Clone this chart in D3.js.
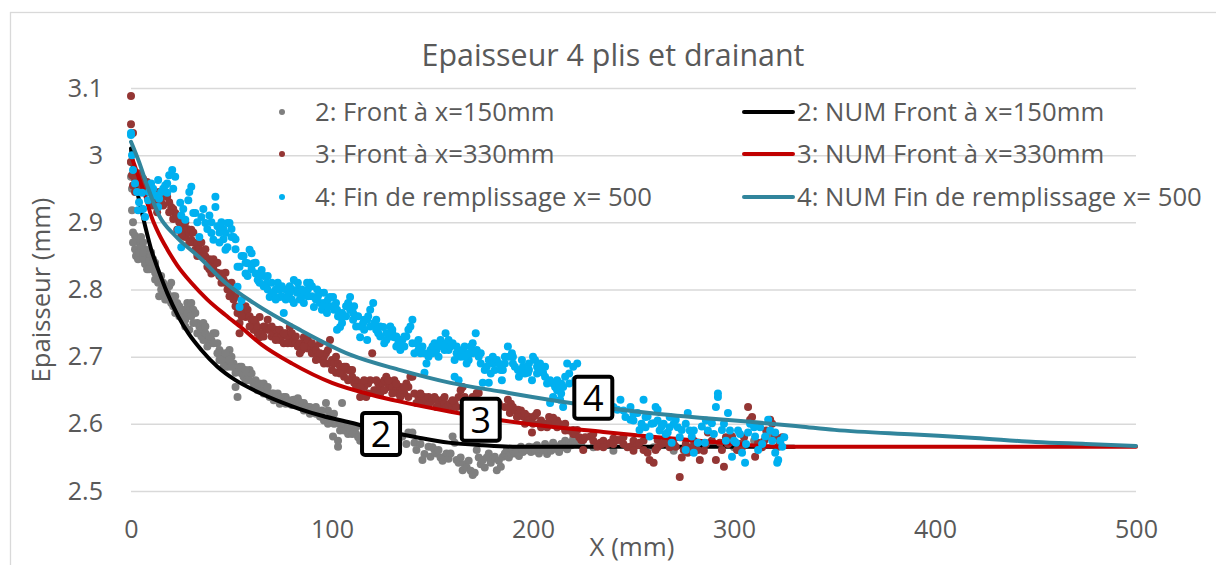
<!DOCTYPE html>
<html>
<head>
<meta charset="utf-8">
<script src="https://cdn.jsdelivr.net/npm/d3@7"></script>
<style>
  html, body { margin: 0; padding: 0; background: #fff; }
  svg { display: block; }
</style>
</head>
<body>
<svg id="chart" width="1216" height="565"></svg>
<script>
// ---- Data -------------------------------------------------------------
const chartTitle = "Epaisseur 4 plis et drainant";
const xAxisTitle = "X (mm)";
const yAxisTitle = "Epaisseur (mm)";
const xTickValues = [0, 100, 200, 300, 400, 500];
const yTickValues = [2.5, 2.6, 2.7, 2.8, 2.9, 3.0, 3.1];
const yTickLabels = ["2.5", "2.6", "2.7", "2.8", "2.9", "3", "3.1"];

const seriesNames = [
  "2: Front à x=150mm",
  "3: Front à x=330mm",
  "4: Fin de remplissage x= 500",
  "2: NUM Front à x=150mm",
  "3: NUM Front à x=330mm",
  "4: NUM Fin de remplissage x= 500"
];

// Measured thickness, front at x = 150 mm  [x (mm), thickness (mm)]
const frontX150 = [
  [0,2.99],[0,2.968],[0.5,2.95],[0.5,2.918],[1,2.90],[1,2.885],[2,2.88],[3,2.875],[4,2.87],[2.5,2.85],[3.5,2.845],
  [5,2.878],[6,2.87],[7,2.86],[8,2.85],[6,2.845],[7,2.838],[9,2.842],[10,2.835],[8,2.83],[10,2.855],
  [11,2.83],[12,2.825],[13,2.82],[14,2.815],[12,2.84],[13.5,2.81],[15,2.80],[14,2.79],
  [16,2.81],[17,2.80],[18,2.795],[19,2.805],[20,2.81],[18,2.785],[20,2.78],[21,2.79],[22,2.79],
  [23,2.78],[24,2.775],[25,2.77],[26,2.76],[27,2.755],[28,2.78],[29,2.775],[30,2.78],[31,2.77],[32,2.765],[27,2.745],[29,2.74],
  [33,2.75],[34,2.745],[35,2.74],[36,2.75],[37,2.745],[38,2.73],[39,2.72],[40,2.725],[38,2.715],[36,2.725],[41,2.735],[42,2.735],
  [43,2.72],[44,2.71],[45,2.705],[46,2.70],[47,2.695],[48,2.705],[49,2.71],[50,2.70],[44,2.695],[48,2.685],
  [51,2.69],[52,2.676],[53,2.68],[54,2.685],[55,2.685],[56,2.67],[57,2.665],[58,2.675],[59,2.68],[60,2.675],[53,2.64],[52,2.655],
  [61,2.66],[62,2.655],[63,2.65],[64,2.65],[65,2.655],[66,2.645],[67,2.65],[68,2.645],[69,2.64],[70,2.645],
  [71,2.645],[72,2.64],[73,2.645],[74,2.64],[75,2.635],[76,2.64],[77,2.64],[78,2.635],[79,2.63],[80,2.635],
  [81,2.636],[82,2.63],[83,2.628],[84,2.632],[85,2.625],[86,2.631],[87,2.626],[88,2.62],[89,2.625],[90,2.62],
  [91,2.621],[92,2.615],[93,2.618],[94,2.611],[95,2.61],[96,2.605],[97,2.631],[98,2.62],[99,2.611],[100,2.605],
  [100.5,2.581],[101,2.60],[102,2.601],[103,2.566],[103,2.575],[104,2.59],[105,2.631],[106,2.59],[107,2.591],[108,2.585],[109,2.596],[110,2.595],
  [111,2.59],[112,2.585],[113,2.58],[114,2.575],[120,2.58],[126,2.575],
  [1,2.87],[2,2.86],[4,2.855],[5,2.862],[6,2.855],[9,2.83],[11,2.845],[12,2.815],[15,2.82],[16,2.795],[17,2.785],[19,2.79],
  [21,2.775],[22,2.765],[24,2.76],[26,2.77],[28,2.765],[30,2.76],[31,2.75],[33,2.735],[35,2.73],[37,2.735],[39,2.73],
  [41,2.72],[43,2.705],[45,2.695],[46,2.685],[47,2.705],[49,2.695],[50,2.685],[55,2.675],[57,2.68],[59,2.665],[62,2.665],
  [64,2.66],[66,2.66],[68,2.655],[71,2.635],[74,2.63],[77,2.63],[80,2.628],[83,2.638],[86,2.62],[89,2.615],[92,2.625],
  [95,2.62],[98,2.6],[101,2.615],[104,2.6],[106,2.6],[108,2.595],[110,2.585],[112,2.595],
  [130,2.58],[133,2.575],[135,2.581],[137,2.57],[138,2.587],[140,2.587],[141,2.572],[142,2.561],[144,2.57],[145,2.546],[146,2.555],[148,2.566],[149,2.551],[150,2.565],
  [151,2.561],[152,2.556],[153,2.561],[154,2.55],[155,2.545],[156,2.551],[157,2.556],[158,2.548],[159,2.556],[160,2.581],[161,2.572],[162,2.546],[163,2.542],[164,2.55],[165,2.531],[166,2.54],
  [167,2.535],[168,2.545],[169,2.53],[170,2.524],[171,2.527],[172,2.561],[173,2.55],[174,2.54],[175,2.546],[176,2.535],[177,2.55],[178,2.556],[179,2.542],[180,2.548],[181,2.551],[182,2.531],[183,2.545],[184,2.536],[185,2.551],
  [186,2.556],[187,2.561],[188,2.55],[189,2.555],[190,2.56],[191,2.556],[192,2.561],[193,2.552],[194,2.566],[195,2.558],[196,2.562],[197,2.561],[198,2.566],[199,2.558],[200,2.565],
  [201,2.56],[202,2.568],[203,2.556],[204,2.562],[205,2.561],[206,2.57],[207,2.555],[208,2.565],[209,2.56],[210,2.572],[211,2.563],[212,2.566],[213,2.558],[214,2.57],[215,2.565],[216,2.575],[217,2.562],[218,2.572],[219,2.568],[220,2.578],[221,2.57],[222,2.58],[223,2.575],[224,2.568],
  [230,2.565],[240,2.56],[250,2.57],[260,2.565],[270,2.56],[280,2.568],[290,2.57],[300,2.565],[310,2.575],[318,2.58],[323,2.576]
];

// Measured thickness, front at x = 330 mm
const frontX330 = [
  [0,3.088],[0,3.046],[1,3.033],
  [0,2.99],[0.5,2.97],[1,2.955],[2,2.965],[3.5,2.973],[4,2.96],[5,2.95],[6,2.965],[7,2.953],[8,2.945],[9,2.955],[10,2.944],
  [11,2.94],[12,2.935],[13,2.933],[14,2.945],[15,2.93],[16,2.925],[17,2.94],[18,2.938],[19,2.93],[20,2.923],
  [21,2.92],[22,2.914],[23,2.889],[24,2.9],[25,2.895],[26,2.885],[27,2.878],[28,2.89],[29,2.885],[30,2.889],[30,2.874],
  [31,2.87],[32,2.859],[33,2.869],[34,2.86],[35,2.855],[36,2.85],[37,2.849],[38,2.834],[39,2.845],[40,2.824],[40,2.84],
  [41,2.83],[42,2.839],[43,2.825],[44,2.82],[45,2.824],[46,2.815],[47,2.81],[48,2.80],[49,2.805],[50,2.795],
  [51,2.785],[52,2.789],[53,2.765],[54,2.75],[54,2.735],[55,2.774],[56,2.765],[57,2.759],[58,2.77],[59,2.76],[60,2.755],
  [61,2.74],[62,2.75],[63,2.744],[64,2.759],[64,2.729],[65,2.735],[66,2.745],[67,2.744],[68,2.74],[69,2.74],[70,2.73],
  [71,2.735],[72,2.74],[73,2.73],[74,2.725],[75,2.73],[76,2.72],[77,2.735],[78,2.73],[79,2.744],[80,2.72],
  [81,2.725],[82,2.72],[83,2.715],[84,2.72],[85,2.71],[86,2.729],[87,2.72],[88,2.712],[89,2.715],[90,2.705],
  [91,2.715],[92,2.71],[93,2.70],[94,2.72],[95,2.695],[96,2.70],[97,2.705],[98,2.69],[99,2.725],[100,2.695],
  [101,2.69],[102,2.676],[103,2.69],[104,2.685],[105,2.68],[106,2.67],[107,2.685],[108,2.68],[109,2.68],[110,2.67],
  [111,2.661],[112,2.665],[113,2.66],[114,2.64],[115,2.661],[116,2.655],[117,2.64],[118,2.66],[119,2.665],[120,2.705],
  [121,2.65],[122,2.65],[123,2.66],[124,2.655],[125,2.661],[126,2.665],[127,2.67],[128,2.655],[129,2.66],[130,2.655],[131,2.665],[132,2.65],[133,2.645],[134,2.655],
  [135,2.65],[136,2.645],[137,2.66],[138,2.655],[139,2.67],[140,2.67],[141,2.645],[142,2.631],[143,2.64],[144,2.635],[145,2.631],[146,2.64],[147,2.635],[148,2.64],[149,2.632],[150,2.636],
  [2,2.945],[5,2.965],[8,2.96],[11,2.925],[13,2.915],[16,2.94],[19,2.915],[21,2.905],[23,2.91],[25,2.88],[27,2.9],[29,2.87],
  [31,2.885],[33,2.85],[35,2.87],[37,2.86],[39,2.83],[41,2.845],[43,2.84],[45,2.81],[47,2.825],[49,2.79],[50,2.81],[52,2.775],
  [55,2.76],[57,2.775],[59,2.745],[61,2.755],[63,2.735],[66,2.73],[68,2.755],[70,2.745],[72,2.725],[74,2.74],[76,2.735],
  [78,2.72],[80,2.735],[82,2.73],[84,2.705],[86,2.715],[88,2.725],[90,2.72],[92,2.695],[94,2.705],[96,2.69],[98,2.71],
  [100,2.68],[102,2.7],[104,2.675],[106,2.685],[108,2.665],[110,2.68],[112,2.655],[114,2.655],[116,2.665],[118,2.645],
  [122,2.665],[124,2.645],[126,2.65],[128,2.665],[130,2.645],[132,2.66],[134,2.64],[136,2.655],[138,2.64],[144,2.645],[148,2.628],
  [151,2.64],[152,2.636],[153,2.63],[154,2.625],[155,2.636],[156,2.63],[157,2.625],[158,2.628],[159,2.631],[160,2.625],[161,2.631],[162,2.625],[163,2.64],[164,2.65],[165,2.655],[166,2.64],[167,2.635],[168,2.63],[170,2.64],[172,2.646],[173,2.646],
  [152,2.625],[156,2.64],[160,2.635],[176,2.63],[180,2.625],[183,2.63],
  [186,2.625],[187.5,2.636],[188.5,2.616],[189,2.63],[190,2.625],[191,2.62],[192.5,2.621],[193,2.615],[194,2.62],[195,2.611],[196,2.615],[197.5,2.611],[198,2.605],[199.5,2.587],[200,2.61],
  [188,2.625],[192,2.61],[196,2.6],[200,2.6],[204,2.595],[208,2.61],[212,2.605],[216,2.6],[220,2.585],
  [201,2.612],[202,2.616],[203,2.6],[204,2.605],[205,2.601],[206,2.6],[207,2.595],[208.5,2.601],[210,2.609],[211,2.6],[212,2.595],[213,2.6],[215,2.596],[216,2.59],[218,2.59],[220,2.591],[221,2.585],[222,2.591],[223,2.58],[224,2.576],[225,2.561],[225,2.576],
  [226,2.58],[228.5,2.581],[230,2.575],[232,2.566],[233.5,2.572],[235,2.575],[237,2.57],[238.5,2.572],[240,2.578],[242,2.576],[243.5,2.576],[245,2.57],[247,2.565],[248.5,2.566],[250,2.575],[252,2.568],[253,2.572],[255,2.561],[257,2.557],[258,2.546],[260,2.542],
  [230,2.585],[235,2.565],[240,2.57],[245,2.58],[250,2.56],[255,2.575],[262,2.565],[268,2.575],[276,2.57],[286,2.57],[296,2.58],[304,2.565],[315,2.575],
  [261,2.561],[262,2.576],[264,2.57],[265,2.572],[266,2.572],[268,2.565],[270,2.57],[271,2.566],[273,2.521],[274,2.55],[275,2.561],[277,2.557],[279,2.565],[280,2.575],[282,2.561],[283,2.546],[285,2.56],[287,2.587],[289,2.575],[291,2.546],[293,2.572],[294,2.561],[295,2.536],[297,2.57],[299,2.581],[301.5,2.561],[303,2.57],[305,2.58],[307,2.625],[308,2.606],[309,2.61],[310.5,2.551],[312,2.572],[314,2.565],[316,2.59],[318,2.606],[319,2.6],[320.5,2.581],[322,2.566],[323,2.572],[324,2.58]
];

// Measured thickness at the end of filling, x = 500 mm
const finRemplissage = [
  [0,3.033],[0,3.03],[0.5,3.0],[1,2.978],[2,2.958],[3.5,2.918],[3,2.945],[5.5,2.944],[4,2.93],
  [6,2.92],[7,2.908],[8.5,2.933],[9,2.945],[10,2.958],[11,2.95],[12,2.94],[13.5,2.963],[13.5,2.923],[14,2.935],[15,2.945],
  [16,2.95],[17,2.955],[18,2.958],[18,2.944],[19,2.97],[20.5,2.978],[22,2.968],[21,2.95],[23.5,2.889],[24.5,2.929],[25,2.863],[25,2.91],
  [26,2.92],[27,2.904],[28.5,2.933],[29,2.945],[30,2.953],[31,2.914],[32,2.914],[33,2.9],[34,2.878],[35,2.908],
  [36,2.92],[37,2.899],[38,2.89],[39,2.91],[40,2.884],[41,2.874],[42,2.938],[42,2.923],[43,2.894],[44,2.885],[45,2.9],
  [46,2.89],[47,2.884],[47,2.859],[48,2.899],[48,2.863],[49,2.899],[50,2.878],[51,2.878],[52,2.86],[53,2.834],[53,2.804],[54,2.834],[54,2.774],[55,2.784],
  [56,2.85],[57,2.824],[58,2.839],[59,2.859],[60,2.854],[61,2.839],[62,2.824],[63,2.814],[64,2.824],[65,2.829],
  [66,2.82],[67.6,2.81],[68,2.8],[69,2.789],[70,2.81],[71,2.795],[72,2.8],[73,2.81],[74,2.789],[74,2.8],[75,2.79],
  [76,2.765],[77,2.8],[78,2.79],[79,2.805],[80,2.8],[81,2.814],[81,2.78],[82.6,2.795],[83,2.8],[84,2.785],[85,2.79],
  [86,2.795],[87.6,2.81],[88,2.8],[89,2.81],[90,2.79],[91,2.774],[92.6,2.8],[93,2.79],[94,2.795],[94,2.78],[95,2.77],
  [96,2.78],[97.5,2.765],[98,2.775],[99,2.789],[100.5,2.789],[101,2.77],[102.5,2.77],[102.5,2.74],[103,2.76],[104,2.759],[104,2.744],[105,2.75],
  [106,2.76],[107,2.775],[108,2.78],[109,2.77],[109,2.789],[110.5,2.755],[110.5,2.765],[112,2.745],[113,2.76],[114,2.729],[115.5,2.75],
  [116,2.74],[117.5,2.755],[117.5,2.725],[118,2.76],[119,2.77],[120.5,2.78],[121,2.75],[122,2.74],[123,2.735],[124,2.73],[125.5,2.744],
  [126,2.72],[127,2.725],[128,2.735],[129,2.73],[130,2.74],[130,2.735],[131,2.729],[132,2.715],[133,2.72],[134,2.71],[135,2.725],
  [136,2.715],[137,2.73],[138,2.74],[139,2.745],[140,2.755],[141,2.705],[142,2.72],[143,2.71],[144,2.705],[145,2.715],[146,2.676],[147,2.69],[148,2.70],[149,2.71],[150,2.705],
  [40,2.9],[44,2.87],[46,2.875],[50,2.89],[52,2.875],[55,2.85],[57,2.84],[58,2.82],[60,2.83],[62,2.84],[64,2.81],[66,2.805],
  [68,2.82],[70,2.795],[72,2.785],[75,2.805],[77,2.785],[79,2.795],[80,2.785],[83,2.81],[85,2.8],[86,2.78],[88,2.79],[90,2.805],
  [92,2.785],[96,2.795],[98,2.785],[100,2.775],[102,2.78],[105,2.765],[107,2.76],[111,2.775],[112,2.76],[114,2.745],[116,2.755],
  [119,2.745],[122,2.755],[124,2.745],[127,2.735],[129,2.745],[132,2.73],[134,2.725],[136,2.73],[140,2.72],[143,2.725],[146,2.705],
  [150,2.715],[153,2.7],[156,2.71],[158,2.725],[162,2.715],[166,2.715],[168,2.695],[170,2.705],[174,2.705],[178,2.695],[180,2.7],
  [184,2.68],[186,2.69],[190,2.7],[194,2.675],[198,2.69],[202,2.675],[206,2.685],[210,2.66],[214,2.66],[218,2.66],
  [151,2.72],[152,2.71],[153,2.715],[154,2.725],[155,2.72],[156.5,2.735],[157,2.72],[158,2.71],[159,2.715],[160,2.72],[161,2.695],[161,2.67],[162,2.705],[163,2.665],[164,2.7],[165,2.71],
  [166,2.7],[167,2.69],[168,2.705],[169,2.715],[170,2.72],[171.5,2.735],[172,2.71],[173,2.70],[174,2.69],[175,2.661],[176,2.68],[177,2.685],[178,2.661],[179,2.675],[180,2.69],
  [181,2.68],[182,2.695],[183,2.69],[184.5,2.665],[185,2.68],[186,2.7],[187.5,2.715],[188,2.7],[189.5,2.705],[190,2.69],[191,2.685],[192.5,2.68],[193,2.67],[194.5,2.695],[195,2.685],[196,2.675],[197.5,2.676],[198,2.68],[199.5,2.665],[200,2.70],
  [201,2.695],[202,2.685],[203.5,2.69],[204,2.68],[205,2.676],[206,2.67],[207,2.66],[208.5,2.665],[208.5,2.631],[210,2.64],[211,2.655],[212,2.65],[212,2.665],[213.5,2.636],[214,2.645],[215,2.655],[215,2.625],[216,2.67],[217,2.69],[218,2.675],[220,2.685],[221,2.665],[222,2.69],[223,2.65],[225,2.64],
  [227,2.63],[230,2.625],[232,2.62],[235,2.63],[238,2.615],[240,2.625],[242,2.621],[243.5,2.636],[245,2.62],
  [246,2.61],[248.5,2.625],[248.5,2.606],[250,2.615],[252,2.616],[253,2.591],[254,2.6],[255,2.636],[256,2.61],[257,2.611],[258,2.581],[259,2.6],[260,2.601],[261,2.625],[262,2.621],[263,2.59],[264,2.596],[265,2.6],
  [250,2.605],[256,2.595],[262,2.605],[268,2.61],[272,2.595],[276,2.6],[280,2.59],[286,2.605],[290,2.585],[296,2.575],[302,2.59],[306,2.57],[310,2.595],[314,2.57],[319,2.575],
  [266,2.585],[267,2.587],[268,2.595],[269,2.572],[270,2.6],[271,2.606],[273,2.58],[274,2.591],[276,2.561],[277,2.616],[278,2.59],[279,2.581],[280,2.557],[282,2.572],[284,2.596],[285.5,2.572],[287,2.59],[289,2.601],[291,2.625],[292,2.64],[292,2.645],[294,2.591],[295,2.6],
  [297,2.616],[298,2.59],[299,2.551],[300,2.575],[301,2.572],[303,2.585],[304,2.557],[305.5,2.542],[307,2.587],[308,2.6],[310.5,2.581],[312,2.561],[313,2.595],[315.5,2.581],[317,2.606],[318,2.59],[320.5,2.587],[320.5,2.557],[321.5,2.542],[322,2.546],[323,2.575],[324,2.566],[325,2.58]
];

// Numerical simulation curves
const numFront150 = [
  [0,3.01],[1,2.98],[3.5,2.94],[7,2.895],[10,2.86],[13.5,2.83],[18,2.795],[23.5,2.76],[28.5,2.735],[35,2.71],
  [43,2.685],[52,2.665],[62,2.649],[75,2.632],[84,2.622],[95,2.612],[109,2.602],[125,2.59],[142,2.58],
  [158,2.572],[175,2.568],[190,2.566],[220,2.566],[260,2.566],[330,2.566]
];
const numFront330 = [
  [0,3.0],[3.5,2.97],[7,2.94],[10,2.91],[14,2.882],[18,2.86],[23,2.836],[30,2.81],[38,2.785],[47,2.762],
  [55,2.743],[65,2.718],[80,2.69],[100,2.661],[120,2.643],[134,2.633],[159,2.618],[185,2.605],[208,2.596],
  [235,2.588],[258,2.581],[290,2.573],[324,2.566],[400,2.566],[500,2.566]
];
const numFin500 = [
  [0,3.02],[4,2.99],[8,2.955],[14,2.91],[22,2.88],[34,2.848],[47,2.81],[61,2.78],[84,2.74],[109,2.703],
  [134,2.68],[159,2.661],[184,2.648],[208,2.636],[233,2.625],[258,2.616],[283,2.609],[308,2.603],[333,2.596],
  [350,2.591],[390,2.584],[420,2.579],[450,2.573],[475,2.57],[500,2.567]
];

// Boxed curve labels, anchored in data coordinates
const curveLabels = ["2", "3", "4"];
const curveLabelAnchors = [[124.4, 2.585], [174, 2.606], [230, 2.639]];

// ---- Styles -----------------------------------------------------------
const FONT = "'Open Sans', 'Noto Sans', sans-serif";
const TEXT = "#595959";
const GRID = "#d9d9d9";
const dotColors = ["#7f7f7f", "#943634", "#00b0f0"];
const lineColors = ["#000000", "#c00000", "#31859c"];

const svg = d3.select("#chart");

// Font size that makes a string span a given width
function fitSize(str, width) {
  const t = svg.append("text").attr("font-family", FONT).attr("font-size", 100).text(str);
  const w = t.node().getComputedTextLength();
  t.remove();
  return 100 * width / w;
}

const titleSize = fitSize(chartTitle, 383);
const legendSize = fitSize(seriesNames[5], 405);
const tickSize = fitSize("500", 43);
const yTitleSize = fitSize(yAxisTitle, 185);
const xTitleSize = fitSize(xAxisTitle, 85);

// Chart frame
svg.append("rect")
  .attr("x", 10.5).attr("y", 12.5).attr("width", 1300).attr("height", 700)
  .attr("fill", "#fff").attr("stroke", GRID).attr("stroke-width", 1.3);

// ---- Scales -----------------------------------------------------------
const x = d3.scaleLinear().domain([0, 500]).range([131, 1136]);
const y = d3.scaleLinear().domain([2.5, 3.1]).range([491, 88]);

// Horizontal gridlines
svg.append("g")
  .attr("transform", `translate(${x(0)},0)`)
  .call(d3.axisLeft(y).tickValues(yTickValues).tickSize(-(x(500) - x(0))).tickFormat(""))
  .call(g => g.select(".domain").remove())
  .call(g => g.selectAll("line").attr("stroke", GRID).attr("stroke-width", 1.5));

// Y tick labels
svg.append("g")
  .attr("transform", `translate(${x(0)},0)`)
  .call(d3.axisLeft(y).tickValues(yTickValues).tickSize(0).tickPadding(28)
    .tickFormat((d, i) => yTickLabels[i]))
  .call(g => g.select(".domain").remove())
  .call(g => g.selectAll("text").attr("font-family", FONT).attr("font-size", tickSize).attr("fill", TEXT));

// X tick labels
svg.append("g")
  .attr("transform", `translate(0,${y(2.5)})`)
  .call(d3.axisBottom(x).tickValues(xTickValues).tickSize(0).tickPadding(29).tickFormat(d3.format("d")))
  .call(g => g.select(".domain").remove())
  .call(g => g.selectAll("text").attr("font-family", FONT).attr("font-size", tickSize).attr("fill", TEXT));

// ---- Series -----------------------------------------------------------
const line = d3.line().x(d => x(d[0])).y(d => y(d[1])).curve(d3.curveMonotoneX);

function drawDots(data, color) {
  svg.append("g").selectAll("circle").data(data).join("circle")
    .attr("cx", d => x(d[0])).attr("cy", d => y(d[1])).attr("r", 4)
    .attr("fill", color);
}
function drawLine(data, color) {
  svg.append("path").datum(data)
    .attr("d", line).attr("fill", "none")
    .attr("stroke", color).attr("stroke-width", 4)
    .attr("stroke-linecap", "round").attr("stroke-linejoin", "round");
}

const measured = [frontX150, frontX330, finRemplissage];
const simulated = [numFront150, numFront330, numFin500];
measured.forEach((data, i) => {
  drawDots(data, dotColors[i]);
  drawLine(simulated[i], lineColors[i]);
});

// Boxed labels
const boxes = svg.append("g").selectAll("g").data(curveLabels).join("g")
  .attr("transform", (d, i) => `translate(${x(curveLabelAnchors[i][0])},${y(curveLabelAnchors[i][1])})`);
boxes.append("rect")
  .attr("x", -19).attr("y", -21).attr("width", 38).attr("height", 42).attr("rx", 3)
  .attr("fill", "#fff").attr("stroke", "#000").attr("stroke-width", 4);
boxes.append("text")
  .attr("text-anchor", "middle").attr("y", 13)
  .attr("font-family", FONT).attr("font-size", 36).attr("fill", "#000")
  .text(d => d);

// ---- Titles -----------------------------------------------------------
svg.append("text")
  .attr("x", 613).attr("y", 66).attr("text-anchor", "middle")
  .attr("font-family", FONT).attr("font-size", titleSize).attr("fill", TEXT)
  .text(chartTitle);

svg.append("text")
  .attr("transform", "translate(50,290) rotate(-90)").attr("text-anchor", "middle")
  .attr("font-family", FONT).attr("font-size", yTitleSize).attr("fill", TEXT)
  .text(yAxisTitle);

svg.append("text")
  .attr("x", 632).attr("y", 556).attr("text-anchor", "middle")
  .attr("font-family", FONT).attr("font-size", xTitleSize).attr("fill", TEXT)
  .text(xAxisTitle);

// ---- Legend -----------------------------------------------------------
const rowY = [112, 154, 197];
const legend = svg.append("g").attr("font-family", FONT).attr("font-size", legendSize).attr("fill", TEXT);
[0, 1, 2].forEach(i => {
  legend.append("circle").attr("cx", 282).attr("cy", rowY[i]).attr("r", 3).attr("fill", dotColors[i]);
  legend.append("text").attr("x", 315).attr("y", rowY[i]).attr("dy", "0.36em").text(seriesNames[i]);
  legend.append("line").attr("x1", 744).attr("x2", 793).attr("y1", rowY[i]).attr("y2", rowY[i])
    .attr("stroke", lineColors[i]).attr("stroke-width", 4).attr("stroke-linecap", "round");
  legend.append("text").attr("x", 797).attr("y", rowY[i]).attr("dy", "0.36em").text(seriesNames[i + 3]);
});
</script>
</body>
</html>
